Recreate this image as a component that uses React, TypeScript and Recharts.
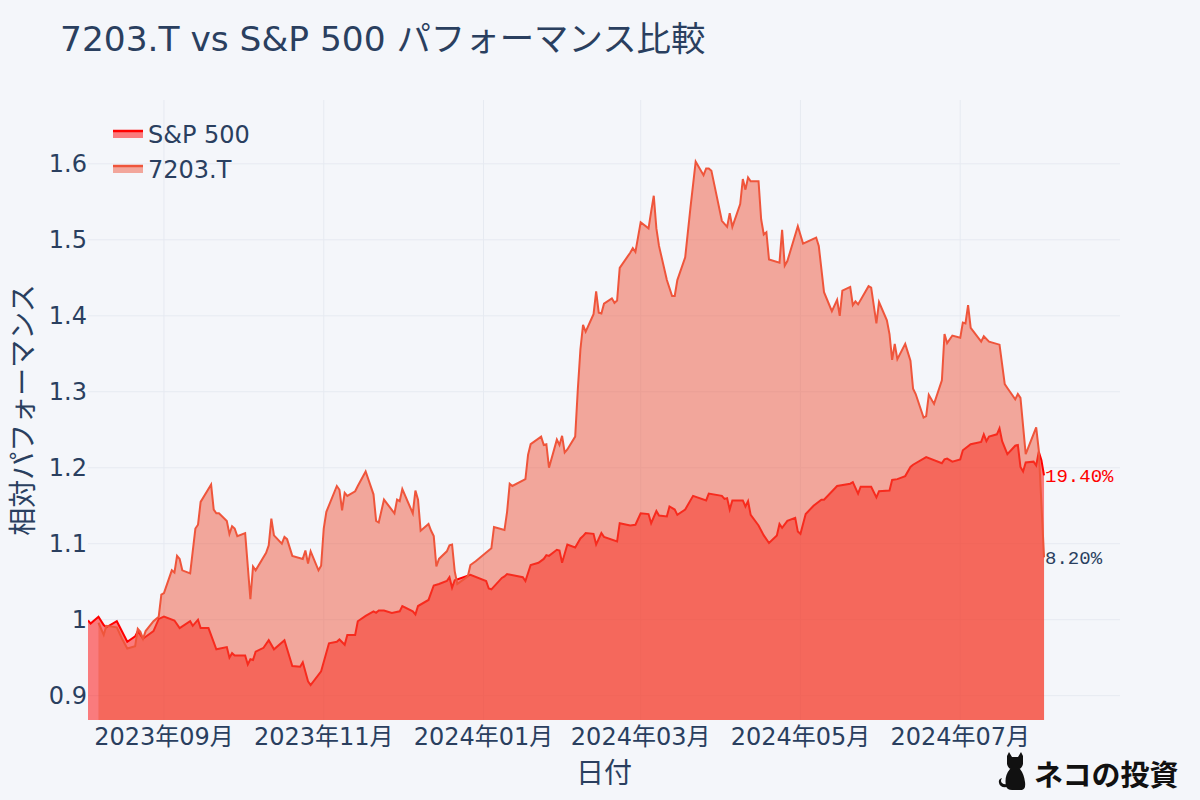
import { Area, CartesianGrid, ComposedChart, Label, LabelList, XAxis, YAxis } from 'recharts'

const FONT = '"DejaVu Sans", "Noto Sans CJK JP", sans-serif'
const MONO = '"Liberation Mono", "Courier New", monospace'
const INK = '#2a3f5f'
const BG = '#f4f6fa'
const SP_COLOR = '#ff0000'
const TY_COLOR = '#ef553b'

const TITLE = '7203.T vs S&P 500 パフォーマンス比較'
const SERIES_NAMES = ['S&P 500', '7203.T']
const END_LABELS = ['19.40%', '8.20%']

// S&P 500, normalised to the first close
const spDates = [
  '2023-08-03', '2023-08-04', '2023-08-07', '2023-08-09', '2023-08-10', '2023-08-14', '2023-08-18', '2023-08-21',
  '2023-08-22', '2023-08-24', '2023-08-28', '2023-08-30', '2023-09-01', '2023-09-05', '2023-09-07', '2023-09-11',
  '2023-09-12', '2023-09-14', '2023-09-15', '2023-09-18', '2023-09-21', '2023-09-25', '2023-09-26', '2023-09-27',
  '2023-09-28', '2023-10-02', '2023-10-03', '2023-10-04', '2023-10-05', '2023-10-06', '2023-10-09', '2023-10-11',
  '2023-10-13', '2023-10-17', '2023-10-20', '2023-10-23', '2023-10-24', '2023-10-26', '2023-10-27', '2023-10-31',
  '2023-11-03', '2023-11-06', '2023-11-07', '2023-11-09', '2023-11-10', '2023-11-13', '2023-11-14', '2023-11-17',
  '2023-11-20', '2023-11-21', '2023-11-22', '2023-11-24', '2023-11-27', '2023-11-30', '2023-12-01', '2023-12-05',
  '2023-12-06', '2023-12-07', '2023-12-11', '2023-12-13', '2023-12-15', '2023-12-18', '2023-12-19', '2023-12-20',
  '2023-12-21', '2023-12-27', '2024-01-02', '2024-01-03', '2024-01-04', '2024-01-08', '2024-01-09', '2024-01-10',
  '2024-01-16', '2024-01-17', '2024-01-19', '2024-01-22', '2024-01-24', '2024-01-25', '2024-01-26', '2024-01-29',
  '2024-01-30', '2024-01-31', '2024-02-02', '2024-02-05', '2024-02-07', '2024-02-08', '2024-02-09', '2024-02-12',
  '2024-02-13', '2024-02-15', '2024-02-16', '2024-02-21', '2024-02-22', '2024-02-26', '2024-02-28', '2024-03-01',
  '2024-03-04', '2024-03-05', '2024-03-07', '2024-03-08', '2024-03-11', '2024-03-12', '2024-03-14', '2024-03-15',
  '2024-03-18', '2024-03-21', '2024-03-26', '2024-03-27', '2024-04-01', '2024-04-02', '2024-04-03', '2024-04-04',
  '2024-04-05', '2024-04-09', '2024-04-10', '2024-04-11', '2024-04-12', '2024-04-15', '2024-04-17', '2024-04-19',
  '2024-04-22', '2024-04-23', '2024-04-24', '2024-04-26', '2024-04-29', '2024-04-30', '2024-05-01', '2024-05-03',
  '2024-05-06', '2024-05-09', '2024-05-10', '2024-05-15', '2024-05-20', '2024-05-21', '2024-05-23', '2024-05-24',
  '2024-05-28', '2024-05-30', '2024-05-31', '2024-06-04', '2024-06-05', '2024-06-07', '2024-06-10', '2024-06-12',
  '2024-06-13', '2024-06-18', '2024-06-24', '2024-06-25', '2024-06-26', '2024-06-28', '2024-07-01', '2024-07-02',
  '2024-07-05', '2024-07-09', '2024-07-10', '2024-07-11', '2024-07-12', '2024-07-15', '2024-07-16', '2024-07-17',
  '2024-07-19', '2024-07-22', '2024-07-23', '2024-07-24', '2024-07-25', '2024-07-26', '2024-07-29', '2024-07-30',
  '2024-07-31', '2024-08-01', '2024-08-02',
]
const spValues = [
  0.999, 0.995, 1.004, 0.993, 0.99, 0.998, 0.971, 0.978,
  0.985, 0.975, 0.985, 1.001, 1.004, 0.999, 0.989, 0.998,
  0.992, 1.0, 0.989, 0.989, 0.961, 0.964, 0.95, 0.956,
  0.953, 0.953, 0.941, 0.948, 0.947, 0.958, 0.963, 0.973,
  0.961, 0.973, 0.939, 0.938, 0.944, 0.919, 0.914, 0.932,
  0.969, 0.971, 0.974, 0.967, 0.98, 0.98, 0.998, 1.005,
  1.011, 1.009, 1.012, 1.012, 1.009, 1.011, 1.018, 1.011,
  1.007, 1.018, 1.026, 1.045, 1.047, 1.051, 1.056, 1.042,
  1.052, 1.059, 1.051, 1.041, 1.04, 1.055, 1.057, 1.06,
  1.056, 1.051, 1.072, 1.075, 1.08, 1.085, 1.084, 1.092,
  1.091, 1.075, 1.099, 1.095, 1.107, 1.11, 1.114, 1.113,
  1.099, 1.114, 1.109, 1.103, 1.127, 1.124, 1.125, 1.14,
  1.139, 1.127, 1.143, 1.137, 1.136, 1.149, 1.145, 1.138,
  1.145, 1.163, 1.157, 1.166, 1.163, 1.159, 1.16, 1.145,
  1.157, 1.157, 1.149, 1.156, 1.138, 1.124, 1.111, 1.101,
  1.111, 1.126, 1.121, 1.13, 1.134, 1.116, 1.113, 1.139,
  1.15, 1.158, 1.158, 1.176, 1.179, 1.181, 1.166, 1.175,
  1.175, 1.161, 1.169, 1.17, 1.184, 1.185, 1.189, 1.201,
  1.204, 1.214, 1.206, 1.211, 1.212, 1.208, 1.211, 1.223,
  1.231, 1.234, 1.244, 1.235, 1.241, 1.244, 1.252, 1.235,
  1.218, 1.229, 1.23, 1.201, 1.195, 1.207, 1.208, 1.203,
  1.221, 1.21, 1.19,
]

// 7203.T (Toyota), normalised the same way
const tyDates = [
  '2023-08-07', '2023-08-09', '2023-08-10', '2023-08-14', '2023-08-16', '2023-08-18', '2023-08-21', '2023-08-22',
  '2023-08-23', '2023-08-24', '2023-08-25', '2023-08-28', '2023-08-30', '2023-08-31', '2023-09-01', '2023-09-04',
  '2023-09-05', '2023-09-06', '2023-09-07', '2023-09-08', '2023-09-11', '2023-09-13', '2023-09-14', '2023-09-15',
  '2023-09-19', '2023-09-20', '2023-09-21', '2023-09-22', '2023-09-25', '2023-09-26', '2023-09-27', '2023-09-28',
  '2023-09-29', '2023-10-02', '2023-10-04', '2023-10-05', '2023-10-06', '2023-10-10', '2023-10-11', '2023-10-12',
  '2023-10-13', '2023-10-16', '2023-10-17', '2023-10-18', '2023-10-20', '2023-10-24', '2023-10-25', '2023-10-26',
  '2023-10-27', '2023-10-30', '2023-10-31', '2023-11-01', '2023-11-02', '2023-11-06', '2023-11-07', '2023-11-08',
  '2023-11-09', '2023-11-10', '2023-11-13', '2023-11-14', '2023-11-17', '2023-11-20', '2023-11-21', '2023-11-22',
  '2023-11-24', '2023-11-28', '2023-11-29', '2023-11-30', '2023-12-01', '2023-12-05', '2023-12-06', '2023-12-07',
  '2023-12-08', '2023-12-11', '2023-12-12', '2023-12-13', '2023-12-14', '2023-12-15', '2023-12-18', '2023-12-19',
  '2023-12-20', '2023-12-21', '2023-12-22', '2023-12-26', '2023-12-27', '2023-12-29', '2024-01-04', '2024-01-05',
  '2024-01-09', '2024-01-10', '2024-01-11', '2024-01-12', '2024-01-17', '2024-01-18', '2024-01-19', '2024-01-23',
  '2024-01-24', '2024-01-25', '2024-01-26', '2024-01-29', '2024-01-30', '2024-01-31', '2024-02-01', '2024-02-02',
  '2024-02-05', '2024-02-06', '2024-02-07', '2024-02-08', '2024-02-09', '2024-02-12', '2024-02-13', '2024-02-14',
  '2024-02-15', '2024-02-16', '2024-02-19', '2024-02-20', '2024-02-21', '2024-02-22', '2024-02-26', '2024-02-27',
  '2024-02-28', '2024-03-01', '2024-03-04', '2024-03-05', '2024-03-06', '2024-03-07', '2024-03-08', '2024-03-11',
  '2024-03-13', '2024-03-14', '2024-03-15', '2024-03-18', '2024-03-20', '2024-03-22', '2024-03-25', '2024-03-26',
  '2024-03-27', '2024-03-28', '2024-04-01', '2024-04-03', '2024-04-04', '2024-04-05', '2024-04-08', '2024-04-09',
  '2024-04-10', '2024-04-11', '2024-04-12', '2024-04-15', '2024-04-16', '2024-04-17', '2024-04-18', '2024-04-19',
  '2024-04-23', '2024-04-24', '2024-04-25', '2024-04-26', '2024-04-30', '2024-05-02', '2024-05-07', '2024-05-08',
  '2024-05-10', '2024-05-13', '2024-05-15', '2024-05-16', '2024-05-17', '2024-05-20', '2024-05-21', '2024-05-22',
  '2024-05-23', '2024-05-27', '2024-05-28', '2024-05-30', '2024-05-31', '2024-06-03', '2024-06-04', '2024-06-05',
  '2024-06-06', '2024-06-07', '2024-06-10', '2024-06-12', '2024-06-13', '2024-06-14', '2024-06-17', '2024-06-18',
  '2024-06-19', '2024-06-21', '2024-06-24', '2024-06-25', '2024-06-26', '2024-06-28', '2024-07-01', '2024-07-02',
  '2024-07-03', '2024-07-04', '2024-07-05', '2024-07-09', '2024-07-10', '2024-07-12', '2024-07-16', '2024-07-18',
  '2024-07-19', '2024-07-22', '2024-07-23', '2024-07-24', '2024-07-26', '2024-07-30', '2024-07-31', '2024-08-02',
]
const tyValues = [
  0.996, 0.98, 0.992, 0.99, 0.975, 0.962, 0.965, 0.988,
  0.984, 0.975, 0.985, 0.998, 1.004, 1.033, 1.035, 1.065,
  1.062, 1.084, 1.08, 1.065, 1.061, 1.12, 1.125, 1.155,
  1.178, 1.145, 1.14, 1.14, 1.13, 1.113, 1.123, 1.12,
  1.11, 1.114, 1.027, 1.07, 1.065, 1.088, 1.098, 1.133,
  1.111, 1.1, 1.109, 1.106, 1.084, 1.08, 1.091, 1.074,
  1.09, 1.065, 1.071, 1.12, 1.142, 1.176, 1.171, 1.144,
  1.167, 1.163, 1.169, 1.176, 1.195, 1.165, 1.13, 1.128,
  1.158, 1.14, 1.158, 1.156, 1.172, 1.14, 1.17, 1.158,
  1.117, 1.126, 1.117, 1.11, 1.07, 1.08, 1.09, 1.098,
  1.099, 1.064, 1.047, 1.057, 1.072, 1.077, 1.094, 1.122,
  1.118, 1.142, 1.179, 1.176, 1.185, 1.217, 1.231, 1.241,
  1.23, 1.231, 1.2, 1.237, 1.23, 1.242, 1.22, 1.224,
  1.241, 1.303, 1.356, 1.388, 1.379, 1.402, 1.432, 1.404,
  1.403, 1.416, 1.423, 1.417, 1.42, 1.463, 1.483, 1.489,
  1.484, 1.523, 1.515, 1.537, 1.558, 1.515, 1.492, 1.447,
  1.426, 1.426, 1.447, 1.477, 1.542, 1.603, 1.585, 1.594,
  1.594, 1.591, 1.525, 1.517, 1.535, 1.517, 1.547, 1.58,
  1.566, 1.582, 1.577, 1.577, 1.527, 1.507, 1.51, 1.474,
  1.47, 1.513, 1.466, 1.472, 1.518, 1.495, 1.503, 1.492,
  1.431, 1.406, 1.421, 1.4, 1.433, 1.438, 1.414, 1.419,
  1.415, 1.439, 1.437, 1.39, 1.418, 1.394, 1.376, 1.342,
  1.363, 1.343, 1.363, 1.341, 1.304, 1.297, 1.266, 1.268,
  1.296, 1.284, 1.315, 1.376, 1.364, 1.374, 1.371, 1.391,
  1.39, 1.414, 1.384, 1.366, 1.373, 1.366, 1.362, 1.31,
  1.305, 1.29, 1.297, 1.292, 1.218, 1.253, 1.223, 1.082,
]

const xTicks = ['2023-09-01', '2023-11-01', '2024-01-01', '2024-03-01', '2024-05-01', '2024-07-01']
const xRange = ['2023-08-03', '2024-08-31']
const yTicks = [0.9, 1, 1.1, 1.2, 1.3, 1.4, 1.5, 1.6]
const yRange = [0.868, 1.684]

const toTime = (s: string) => Date.parse(s + 'T00:00:00Z')

type Row = { t: number; sp: number | null; ty: number | null }

const rows: Row[] = (() => {
  const byTime = new Map<number, Row>()
  const get = (t: number) => {
    let r = byTime.get(t)
    if (!r) {
      r = { t, sp: null, ty: null }
      byTime.set(t, r)
    }
    return r
  }
  spDates.forEach((d, i) => (get(toTime(d)).sp = spValues[i]))
  tyDates.forEach((d, i) => (get(toTime(d)).ty = tyValues[i]))
  return [...byTime.values()].sort((a, b) => a.t - b.t)
})()

const monthLabel = (t: number) => {
  const d = new Date(t)
  return `${d.getUTCFullYear()}年${String(d.getUTCMonth() + 1).padStart(2, '0')}月`
}

// only the last point of each series gets its return printed next to it
const endLabel = (text: string, color: string) => (props: any) => {
  const { x, y, index } = props
  if (index !== rows.length - 1 || x == null || y == null) return null
  return (
    <text x={x + 1} y={y + 2} fill={color} fontFamily={MONO} fontSize={19} dominantBaseline="central">
      {text}
    </text>
  )
}

function LegendIcon({ color, y }: { color: string; y: number }) {
  return (
    <g>
      <rect x={113} y={y} width={30} height={7} fill={color} fillOpacity={0.5} />
      <line x1={113} x2={143} y1={y} y2={y} stroke={color} strokeWidth={2.5} />
    </g>
  )
}

function Overlay() {
  return (
    <svg width={1200} height={800} style={{ position: 'absolute', left: 0, top: 0, pointerEvents: 'none' }}>
      <text x={60} y={51} fill={INK} fontFamily={FONT} fontSize={34.4}>
        {TITLE}
      </text>

      <LegendIcon color={SP_COLOR} y={131} />
      <text x={148} y={135} fill={INK} fontFamily={FONT} fontSize={24} dominantBaseline="central">
        {SERIES_NAMES[0]}
      </text>
      <LegendIcon color={TY_COLOR} y={166} />
      <text x={148} y={170} fill={INK} fontFamily={FONT} fontSize={24} dominantBaseline="central">
        {SERIES_NAMES[1]}
      </text>

      {/* little black cat + site name, bottom right */}
      <g transform="translate(998,752)" fill="#111">
        <path d="M9 4 L11 0 L14 5 L20 5 L23 0 L25 4 L25 12 Q24 17 19 18 L15 18 Q10 17 9 12 Z" />
        <path d="M12 17 Q6 24 8 34 Q9 38 14 38 L24 38 Q28 37 27 30 Q26 22 22 17 Z" />
        <path d="M9 35 Q2 36 1 31 Q0 27 4 26 Q2 29 4 31 Q6 33 10 32 Z" />
      </g>
      <text x={1034} y={773} fill="#111" fontFamily='"Noto Sans CJK JP", sans-serif' fontWeight={700} fontSize={29} dominantBaseline="central">
        ネコの投資
      </text>
    </svg>
  )
}

export default function App() {
  return (
    <div style={{ position: 'absolute', left: 0, top: 0, width: 1200, height: 800, background: BG }}>
      <ComposedChart
        width={1200}
        height={800}
        data={rows}
        margin={{ top: 100, right: 80, bottom: 0, left: 0 }}
        style={{ fontFamily: FONT }}
      >
        <CartesianGrid stroke="#e6eaf1" strokeWidth={1} syncWithTicks />
        <XAxis
          dataKey="t"
          type="number"
          domain={xRange.map(toTime)}
          ticks={xTicks.map(toTime)}
          tickFormatter={monthLabel}
          axisLine={false}
          tickLine={false}
          tickSize={0}
          tickMargin={8}
          height={80}
          tick={{ fill: INK, fontSize: 24, fontFamily: FONT }}
          allowDataOverflow
        >
          <Label
            content={(p: any) => {
              const vb = p.viewBox
              return (
                <text
                  x={vb.x + vb.width / 2}
                  y={773}
                  fill={INK}
                  fontFamily={FONT}
                  fontSize={28}
                  textAnchor="middle"
                  dominantBaseline="central"
                >
                  日付
                </text>
              )
            }}
          />
        </XAxis>
        <YAxis
          type="number"
          domain={yRange}
          ticks={yTicks}
          tickFormatter={(v: number) => String(v)}
          axisLine={false}
          tickLine={false}
          tickSize={0}
          tickMargin={1}
          width={88}
          tick={{ fill: INK, fontSize: 24, fontFamily: FONT }}
          allowDataOverflow
        >
          <Label
            content={(p: any) => {
              const vb = p.viewBox
              const cy = vb.y + vb.height / 2
              return (
                <text
                  x={23}
                  y={cy}
                  fill={INK}
                  fontFamily={FONT}
                  fontSize={28}
                  textAnchor="middle"
                  dominantBaseline="central"
                  transform={`rotate(-90 23 ${cy})`}
                >
                  相対パフォーマンス
                </text>
              )
            }}
          />
        </YAxis>
        <Area
          type="linear"
          dataKey="sp"
          name={SERIES_NAMES[0]}
          stroke={SP_COLOR}
          strokeWidth={2}
          fill={SP_COLOR}
          fillOpacity={0.5}
          connectNulls
          dot={false}
          activeDot={false}
          isAnimationActive={false}
        >
          <LabelList dataKey="sp" content={endLabel(END_LABELS[0], SP_COLOR)} />
        </Area>
        <Area
          type="linear"
          dataKey="ty"
          name={SERIES_NAMES[1]}
          stroke={TY_COLOR}
          strokeWidth={2}
          fill={TY_COLOR}
          fillOpacity={0.5}
          connectNulls
          dot={false}
          activeDot={false}
          isAnimationActive={false}
        >
          <LabelList dataKey="ty" content={endLabel(END_LABELS[1], INK)} />
        </Area>
      </ComposedChart>
      <Overlay />
    </div>
  )
}
